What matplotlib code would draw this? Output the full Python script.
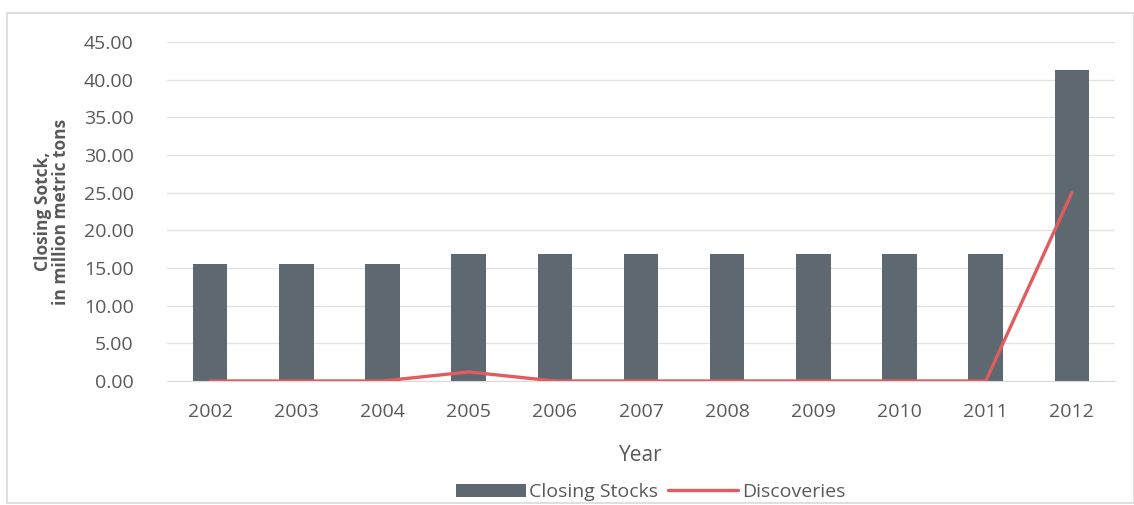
import matplotlib.pyplot as plt
from matplotlib.patches import Rectangle
import numpy as np

years = ['2002', '2003', '2004', '2005', '2006', '2007', '2008', '2009', '2010', '2011', '2012']
closing_stocks = [15.5, 15.5, 15.5, 16.9, 16.9, 16.9, 16.9, 16.9, 16.9, 16.9, 41.3]
discoveries = [0.0, 0.0, 0.0, 1.2, 0.0, 0.0, 0.0, 0.0, 0.0, 0.0, 25.0]
y_ticks = [0, 5, 10, 15, 20, 25, 30, 35, 40, 45]

bar_color = '#5d6870'
line_color = '#e05c5e'
text_color = '#595959'

plt.rcParams['font.family'] = ['Open Sans', 'DejaVu Sans']

fig = plt.figure(figsize=(11.34, 5.05), dpi=100)
fig.patches.append(Rectangle((7 / 1134, 0.004), 1 - 7 / 1134, 1 - 13 / 505 - 0.004,
                             transform=fig.transFigure, fill=False,
                             edgecolor='#d9d9d9', linewidth=1.2))

ax = fig.add_axes([167 / 1134, 124 / 505, 948 / 1134, 339 / 505])
x = np.arange(len(years))

bars = ax.bar(x, closing_stocks, width=0.4, color=bar_color, label='Closing Stocks', zorder=2)
line, = ax.plot(x, discoveries, color=line_color, linewidth=2.4, label='Discoveries', zorder=3,
                solid_capstyle='round')

ax.set_xlim(-0.5, len(years) - 0.5)
ax.set_ylim(0, 45)
ax.set_yticks(y_ticks)
ax.set_yticklabels(['%.2f' % v for v in y_ticks])
ax.set_xticks(x)
ax.set_xticklabels(years)
ax.yaxis.grid(True, color='#e3e3e3', linewidth=1.0, zorder=0)
ax.set_axisbelow(True)

# Hide all spines except a faint baseline
for s in ['top', 'right', 'left']:
    ax.spines[s].set_visible(False)
ax.spines['bottom'].set_color('#d9d9d9')
ax.tick_params(axis='both', length=0, colors=text_color, labelsize=14)
ax.tick_params(axis='y', pad=24)
ax.tick_params(axis='x', pad=16)

ax.set_xlabel('Year', fontsize=15, color=text_color, labelpad=17)
ax.set_ylabel('Closing Sotck,\nin million metric tons', fontsize=12.5,
              fontweight='bold', color=text_color, labelpad=10, linespacing=1.0)

ax.legend([bars, line], ['Closing Stocks', 'Discoveries'],
          loc='upper center', bbox_to_anchor=(0.51, -0.25), ncol=2, frameon=False,
          fontsize=14, labelcolor=text_color, handlelength=3.6, handleheight=0.7,
          handletextpad=0.2, columnspacing=0.5)

fig.savefig('out.png', dpi=100)
